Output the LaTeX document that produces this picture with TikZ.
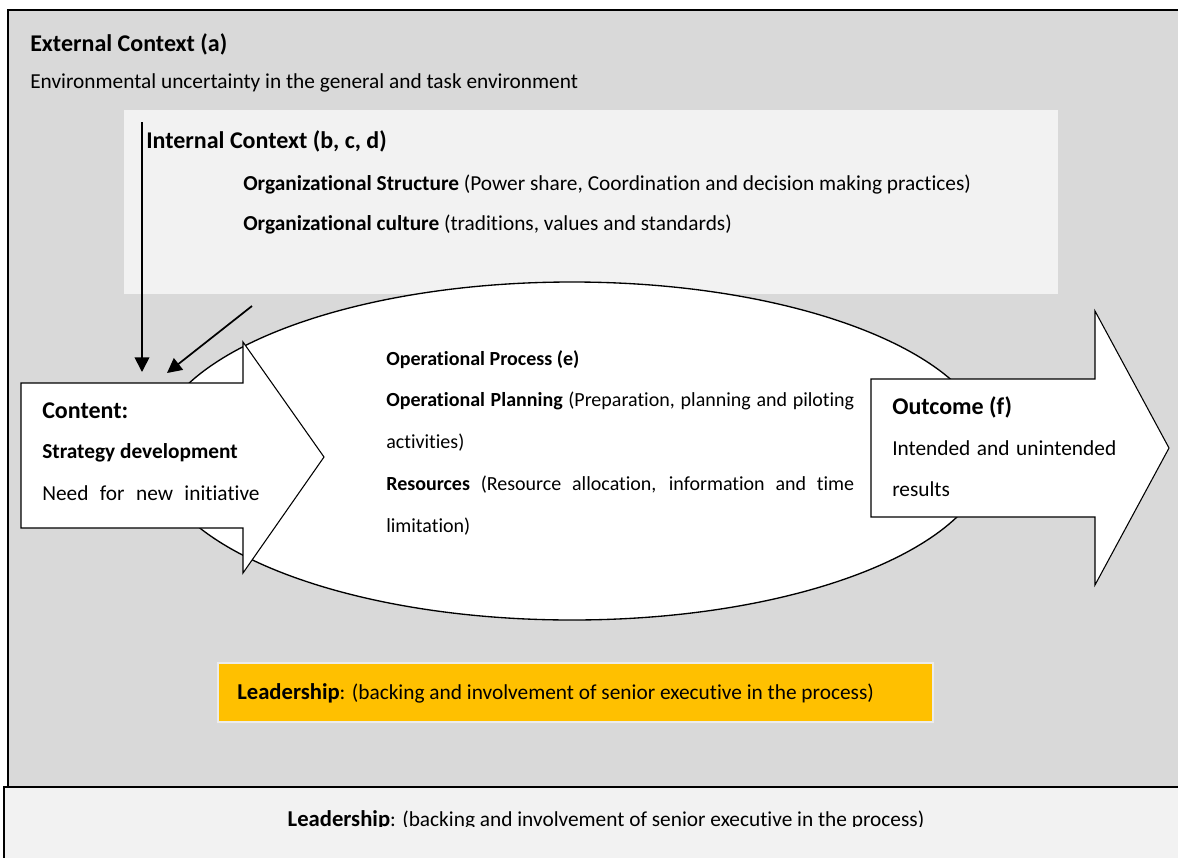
\documentclass[tikz,border=0pt]{standalone}
\usepackage{fontspec}
\setmainfont[Ligatures={NoCommon}]{Carlito}
\usetikzlibrary{arrows.meta}
\definecolor{outergray}{HTML}{D9D9D9}
\definecolor{innergray}{HTML}{F2F2F2}
\definecolor{leadyellow}{HTML}{FFC000}
\newcommand{\bodyfont}{\fontsize{16}{19}\selectfont}
\newcommand{\headfont}{\fontsize{18}{21}\selectfont\bfseries}
\newcommand{\smallfont}{\fontsize{15}{18}\selectfont}
\begin{document}
\begin{tikzpicture}[x=0.75pt,y=-0.75pt,
    txt/.style={anchor=west,inner sep=0pt},
    blockarrow/.style={draw=black,fill=white,line width=0.8pt,line join=miter},
    ptr/.style={-{Triangle[length=11pt,width=11pt]},line width=1.3pt}]
        \useasboundingbox (0,0) rectangle (1178,857);

        % outer context and bottom strip
        \draw[fill=outergray,line width=1pt] (8,10) rectangle (1184,787);
        \draw[fill=innergray,line width=0.8pt] (4,787) rectangle (1184,862);
        \draw[line width=1.6pt] (4,787) -- (1184,787);
        \node[txt] (extTitle) at (30,44) {\headfont External Context (a)};
        \node[txt] (extText) at (30,83) {\bodyfont Environmental uncertainty in the general and task environment};

        % internal context
        \fill[innergray] (124,110) rectangle (1058,294);
        \node[txt] (intTitle) at (146,141) {\headfont Internal Context (b, c, d)};
        \node[txt] (intStruct) at (243,185) {\bodyfont\textbf{Organizational Structure} (Power share, Coordination and decision making practices)};
        \node[txt] (intCult) at (243,225) {\bodyfont\textbf{Organizational culture} (traditions, values and standards)};

        % operational process
        \draw[fill=white,line width=1pt] (572,451) ellipse [x radius=313.5pt,y radius=126.75pt];
        \node[txt] (opTitle) at (386,360) {\smallfont\bfseries Operational Process (e)};
        \node[txt] (opPlan) at (386,401) {\smallfont\makebox[351pt][s]{\textbf{Operational Planning} (Preparation, planning and piloting}};
        \node[txt] (opPlan2) at (386,443) {\smallfont activities)};
        \node[txt] (opRes) at (386,485) {\smallfont\makebox[351pt][s]{\textbf{Resources} (Resource allocation, information and time}};
        \node[txt] (opRes2) at (386,527) {\smallfont limitation)};

        % content arrow
        \draw[blockarrow] (21,383) -- (243,383) -- (243,342) -- (324,457) -- (243,573) -- (243,528) -- (21,528) -- cycle;
        \node[txt] (conTitle) at (42,411) {\headfont Content:};
        \node[txt] (conStrat) at (42,453) {\bodyfont\bfseries Strategy development};
        \node[txt] (conNeed) at (42,493) {\bodyfont\makebox[163pt][s]{Need for new initiative}};

        % outcome arrow
        \draw[blockarrow] (871,379) -- (1095,379) -- (1095,311) -- (1169,448) -- (1095,585) -- (1095,517) -- (871,517) -- cycle;
        \node[txt] (outTitle) at (892,407) {\headfont Outcome (f)};
        \node[txt] (outText) at (892,448) {\bodyfont\makebox[168pt][s]{Intended and unintended}};
        \node[txt] (outText2) at (892,489) {\bodyfont results};

        % influence arrows
        \coordinate (vtop) at (142,122);
        \coordinate (vend) at (142,372);
        \coordinate (dtop) at (252,306);
        \coordinate (dend) at (167,373);
        \draw[ptr] (vtop) -- (vend);
        \draw[ptr] (dtop) -- (dend);

        % leadership
        \draw[draw=white!85!gray,fill=leadyellow,line width=0.8pt] (218,663) rectangle (933,722);
        \node[txt] (leadBox) at (237,693) {\bodyfont\textbf{\fontsize{17}{20}\selectfont Leadership}: (backing and involvement of senior executive in the process)};
        \begin{scope}
            \clip (0,787) rectangle (1178,826);
            \node[anchor=center,inner sep=0pt] (leadStrip) at (606,820) {\bodyfont\textbf{\fontsize{17}{20}\selectfont Leadership}: (backing and involvement of senior executive in the process)};
        \end{scope}

    \end{tikzpicture}
\end{document}
